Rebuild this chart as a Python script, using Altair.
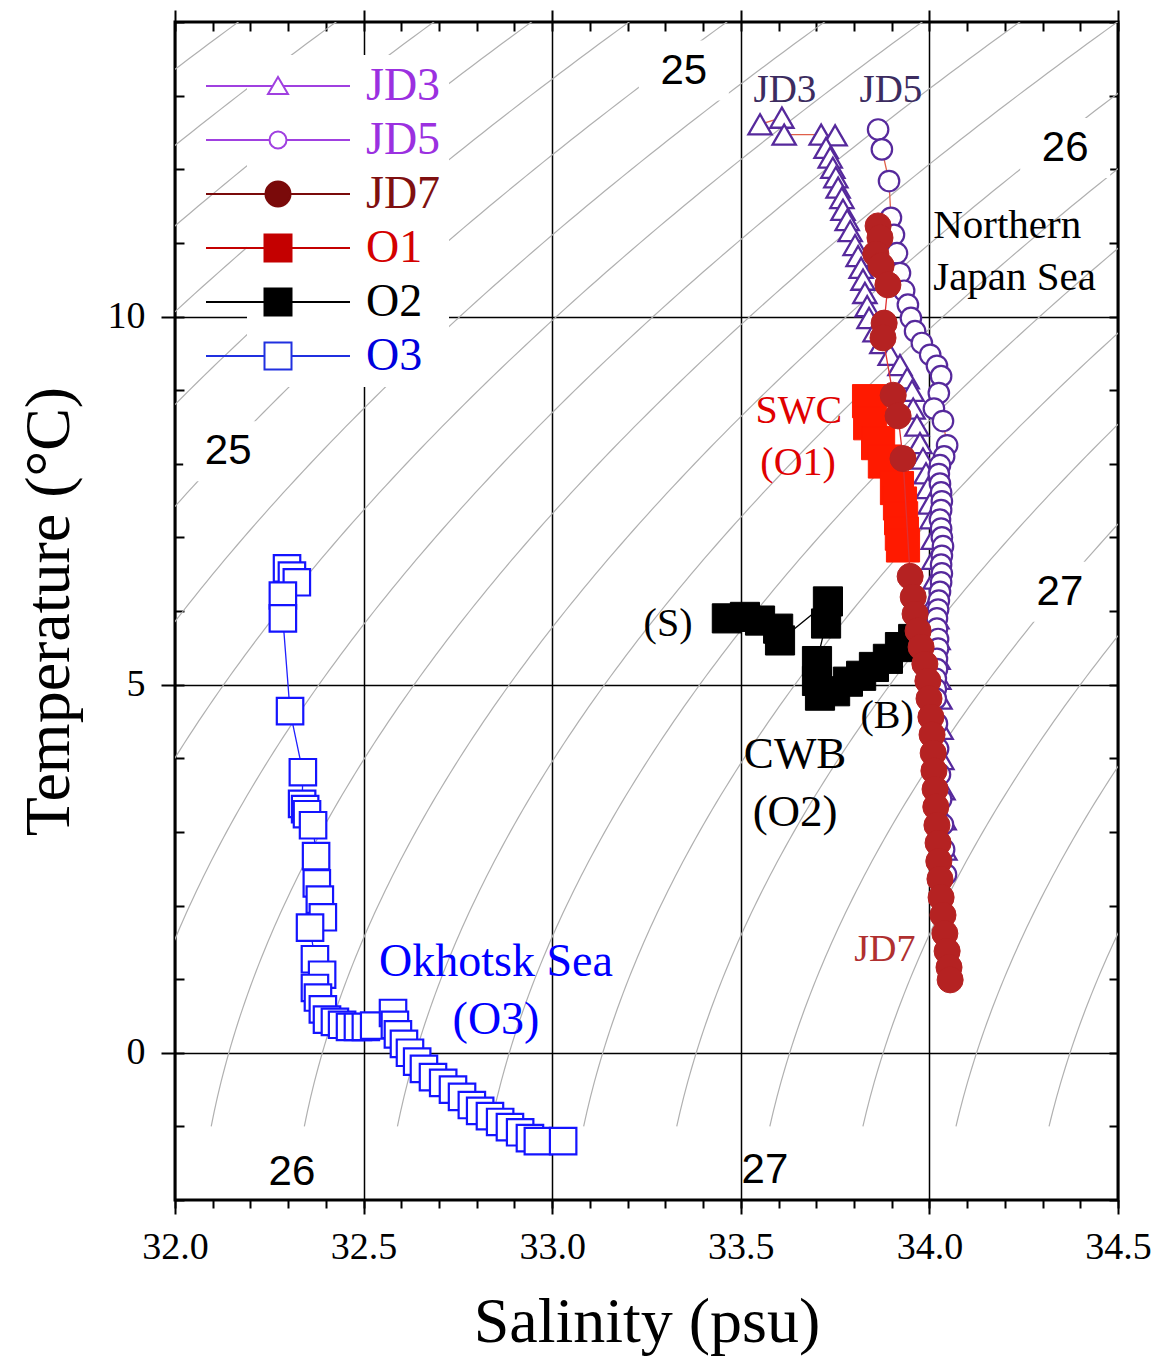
import altair as alt
import numpy as np
import pandas as pd

# ---------------- values ----------------
SERIES = ["JD3", "JD5", "JD7", "O1", "O2", "O3"]

JD3_S = [33.551, 33.609, 33.615, 33.713, 33.750, 33.726, 33.737, 33.744, 33.752, 33.758,
         33.768, 33.771, 33.782, 33.790, 33.803, 33.811, 33.819, 33.824, 33.829, 33.835,
         33.840, 33.856, 33.874, 33.896, 33.922, 33.941, 33.954, 33.957, 33.967, 33.975,
         33.983, 33.991, 33.996, 34.002, 34.007, 34.010, 34.012, 34.015, 34.017, 34.020,
         34.023, 34.023, 34.025, 34.028, 34.031, 34.033, 34.036, 34.039, 34.041]
JD3_T = [12.61, 12.70, 12.47, 12.47, 12.46, 12.29, 12.16, 12.02, 11.89, 11.75,
         11.61, 11.45, 11.31, 11.16, 10.97, 10.82, 10.66, 10.50, 10.32, 10.14,
         9.98, 9.80, 9.64, 9.48, 9.34, 9.16, 8.99, 8.75, 8.52, 8.28,
         8.07, 7.87, 7.67, 7.46, 7.26, 6.98, 6.71, 6.44, 6.17, 5.90,
         5.62, 5.35, 5.08, 4.81, 4.40, 3.99, 3.58, 3.17, 2.76]

JD5_S = [33.864, 33.874, 33.893, 33.898, 33.906, 33.914, 33.922, 33.933, 33.943, 33.951,
         33.962, 33.980, 34.002, 34.020, 34.031, 34.025, 34.012, 34.036,
         34.047, 34.039, 34.028, 34.025, 34.028, 34.031, 34.033, 34.031, 34.028, 34.031,
         34.033, 34.036, 34.033, 34.031, 34.033, 34.031, 34.028, 34.025, 34.023, 34.020,
         34.020, 34.023, 34.023, 34.020, 34.020, 34.017, 34.017, 34.017, 34.020, 34.023,
         34.028, 34.031, 34.036, 34.039, 34.044]
JD5_T = [12.54, 12.27, 11.84, 11.34, 11.11, 10.86, 10.59, 10.35, 10.16, 9.98,
         9.80, 9.64, 9.48, 9.33, 9.19, 8.96, 8.75, 8.58,
         8.25, 8.10, 7.98, 7.86, 7.73, 7.61, 7.49, 7.37, 7.24, 7.12,
         7.00, 6.88, 6.75, 6.63, 6.51, 6.39, 6.26, 6.14, 6.02, 5.90,
         5.76, 5.62, 5.49, 5.35, 5.21, 5.08, 4.94, 4.81, 4.47, 4.13,
         3.78, 3.44, 3.10, 2.76, 2.42]

JD7_S = [33.864, 33.869, 33.858, 33.872, 33.890, 33.880, 33.877, 33.904, 33.917, 33.930,
         33.949, 33.957, 33.962, 33.970, 33.978, 33.988, 33.996, 33.999, 34.004, 34.007,
         34.010, 34.012, 34.015, 34.017, 34.020, 34.023, 34.025, 34.028, 34.031, 34.036,
         34.041, 34.047, 34.052, 34.055]
JD7_T = [11.23, 11.07, 10.85, 10.69, 10.43, 9.91, 9.71, 8.93, 8.65, 8.07,
         6.47, 6.19, 5.96, 5.73, 5.51, 5.28, 5.05, 4.81, 4.56, 4.32,
         4.07, 3.83, 3.58, 3.34, 3.09, 2.85, 2.60, 2.36, 2.11, 1.87,
         1.62, 1.38, 1.16, 0.99]

O1_S = [33.840, 33.843, 33.864, 33.882, 33.914, 33.922, 33.925, 33.927, 33.930]
O1_T = [8.85, 8.55, 8.28, 8.03, 7.67, 7.46, 7.26, 7.05, 6.89]

O2_S = [33.463, 33.511, 33.551, 33.599, 33.604, 33.731, 33.726, 33.702, 33.702, 33.710,
        33.750, 33.784, 33.819, 33.853, 33.890, 33.922, 33.957]
O2_T = [5.90, 5.92, 5.87, 5.76, 5.60, 6.13, 5.83, 5.32, 5.05, 4.85,
        4.91, 5.04, 5.12, 5.24, 5.35, 5.51, 5.62]

O3_S = [32.297, 32.310, 32.323, 32.286, 32.286, 32.305, 32.339, 32.337, 32.345, 32.350,
        32.366, 32.374, 32.376, 32.384, 32.392, 32.358, 32.371, 32.390, 32.371, 32.379,
        32.392, 32.403, 32.424, 32.443, 32.464, 32.485, 32.506, 32.528, 32.578, 32.583,
        32.591, 32.607, 32.623, 32.642, 32.660, 32.684, 32.711, 32.737, 32.761, 32.787,
        32.809, 32.835, 32.862, 32.888, 32.915, 32.941, 32.962, 33.029]
O3_T = [6.58, 6.48, 6.39, 6.21, 5.90, 4.64, 3.81, 3.38, 3.31, 3.24,
        3.09, 2.67, 2.30, 2.08, 1.84, 1.70, 1.27, 1.06, 0.88, 0.75,
        0.59, 0.45, 0.42, 0.38, 0.35, 0.35, 0.35, 0.37, 0.54, 0.38,
        0.25, 0.12, 0.00, -0.12, -0.22, -0.33, -0.41, -0.50, -0.60, -0.71,
        -0.79, -0.86, -0.94, -1.01, -1.08, -1.16, -1.20, -1.20]

# sigma-t contour labels
SIG_LABELS = ["25", "26", "27", "25", "26", "27"]
SIG_S = [33.349, 34.360, 34.346, 32.141, 32.310, 33.564]
SIG_T = [13.34, 12.29, 6.26, 8.17, -1.62, -1.59]
SIG_BOXED = [True, True, True, True, False, False]

# text annotations
PURPLE_LABELS, PURPLE_S, PURPLE_T = ["JD3", "JD5"], [33.617, 33.898], [13.07, 13.07]
NJS_LABELS, NJS_S, NJS_T = ["Northern", "Japan Sea"], [34.010, 34.010], [11.23, 10.52]
SWC_LABELS, SWC_S, SWC_T = ["SWC", "(O1)"], [33.654, 33.652], [8.71, 8.01]
SB_LABELS, SB_S, SB_T = ["(S)", "(B)"], [33.307, 33.888], [5.83, 4.57]
CWB_LABELS, CWB_S, CWB_T = ["CWB", "(O2)"], [33.644, 33.644], [4.06, 3.27]
JD7_LABELS, JD7_LS, JD7_LT = ["JD7"], [33.882], [1.40]
OKH_LABELS, OKH_S, OKH_T = ["Okhotsk Sea", "(O3)"], [32.851, 32.851], [1.23, 0.45]

# axis ticks
X_MAJOR = [32.0, 32.5, 33.0, 33.5, 34.0, 34.5]
X_MINOR = [round(32.0 + 0.1 * k, 1) for k in range(26)]
Y_MAJOR = [0, 5, 10]
Y_MINOR = list(range(-2, 15))
SIGMA_LEVELS = [round(23.6 + 0.2 * k, 1) for k in range(22)]

# ---------------- isopycnals (UNESCO EOS-80, p = 0) ----------------
def sigma_t(S, T):
    rw = (999.842594 + 6.793952e-2 * T - 9.095290e-3 * T**2 + 1.001685e-4 * T**3
          - 1.120083e-6 * T**4 + 6.536332e-9 * T**5)
    A = 8.24493e-1 - 4.0899e-3 * T + 7.6438e-5 * T**2 - 8.2467e-7 * T**3 + 5.3875e-9 * T**4
    B = -5.72466e-3 + 1.0227e-4 * T - 1.6546e-6 * T**2
    C = 4.8314e-4
    return rw + A * S + B * S**1.5 + C * S**2 - 1000.0


def salinity_for(sig, T):
    S = 33.0
    for _ in range(25):
        f = sigma_t(S, T) - sig
        d = (sigma_t(S + 1e-4, T) - sigma_t(S - 1e-4, T)) / 2e-4
        S -= f / d
    return S


rows = []
for lev in SIGMA_LEVELS:
    for t in np.round(np.arange(-1.0, 14.51, 0.1), 2):
        rows.append({"level": lev, "T": float(t), "S": salinity_for(lev, float(t))})
iso = pd.DataFrame(rows)


def frame(name, S, T):
    return pd.DataFrame({"series": name, "S": S, "T": T, "i": list(range(len(S)))})


dfs = {
    "JD3": frame("JD3", JD3_S, JD3_T),
    "JD5": frame("JD5", JD5_S, JD5_T),
    "JD7": frame("JD7", JD7_S, JD7_T),
    "O1": frame("O1", O1_S, O1_T),
    "O2": frame("O2", O2_S, O2_T),
    "O3": frame("O3", O3_S, O3_T),
}
all_df = pd.concat(list(dfs.values()), ignore_index=True)

# ---------------- scales / axes ----------------
xs = alt.Scale(domain=[32.0, 34.5], nice=False, zero=False)
ys = alt.Scale(domain=[-2, 14], nice=False, zero=False)
W, H = 943, 1178
SERIF = "Liberation Serif"


def X(axis=None):
    return alt.X("S:Q", scale=xs, axis=axis)


def Y(axis=None):
    return alt.Y("T:Q", scale=ys, axis=axis)


tick_common = dict(tickColor="black", tickWidth=2, domain=False)

axA = alt.Axis(orient="bottom", values=X_MAJOR, format=".1f", tickSize=14, grid=True,
               gridColor="black", gridWidth=1.5, labelFont=SERIF, labelFontSize=38,
               labelColor="black", labelPadding=14, labelFlush=False, labelOverlap=False,
               title="Salinity (psu)", titleFont=SERIF, titleFontSize=64,
               titleFontWeight="normal", titleColor="black", titlePadding=24, **tick_common)
axB = alt.Axis(orient="bottom", values=X_MINOR, tickSize=8, labels=False, grid=False,
               title=None, **tick_common)
axC = alt.Axis(orient="bottom", offset=-H, values=X_MINOR, tickSize=9, labels=False,
               grid=False, title=None, **tick_common)
axG = alt.Axis(orient="top", values=X_MAJOR, tickSize=12, labels=False, grid=False,
               title=None, **tick_common)
axD = alt.Axis(orient="left", values=Y_MAJOR, format="d", tickSize=14, grid=True,
               gridColor="black", gridWidth=1.5, labelFont=SERIF, labelFontSize=38,
               labelColor="black", labelPadding=16, labelFlush=False, labelOverlap=False,
               title="Temperature (°C)", titleFont=SERIF, titleFontSize=64,
               titleFontWeight="normal", titleColor="black", titlePadding=26, **tick_common)
axE = alt.Axis(orient="right", offset=-W, values=Y_MINOR, tickSize=9, labels=False,
               grid=False, title=None, **tick_common)
axF = alt.Axis(orient="left", offset=-W, values=Y_MINOR, tickSize=9, labels=False,
               grid=False, title=None, **tick_common)

layers = []

# isopycnal lines (also carry the main axes)
layers.append(alt.Chart(iso).mark_line(clip=True, color="#b0b0b0", strokeWidth=1.2).encode(
    x=X(axA), y=Y(axD), detail="level:N", order="T:Q"))

# white boxes behind contour labels
sig_df = pd.DataFrame({"label": SIG_LABELS, "S": SIG_S, "T": SIG_T, "boxed": SIG_BOXED})
layers.append(alt.Chart(sig_df).transform_filter("datum.boxed").mark_point(
    shape="M-1.5,-1H1.5V1H-1.5Z", size=3600, filled=True, fill="white", strokeWidth=0,
    opacity=1).encode(x=X(), y=Y()))
layers.append(alt.Chart(sig_df).mark_text(font="Liberation Sans", fontSize=42, color="black",
                                          align="center", baseline="middle").encode(
    x=X(), y=Y(), text="label:N"))


def series_layers(name, shape, size, stroke, fill, line_color, sw=2.0, lw=1.3):
    base = alt.Chart(dfs[name]).encode(x=X(), y=Y())
    line = base.mark_line(color=line_color, strokeWidth=lw).encode(order="i:Q")
    pts = base.mark_point(shape=shape, size=size, filled=True, fill=fill, stroke=stroke,
                          strokeWidth=sw, opacity=1)
    return [line, pts]


layers += series_layers("JD3", "triangle-up", 540, "#56299c", "white", "#e0604a", sw=2.3)
layers += series_layers("JD5", "circle", 420, "#56299c", "white", "#e0604a", sw=2.2)
layers += series_layers("O3", "square", 700, "#1414ff", "white", "#2020ff", sw=2.2)
layers += series_layers("O2", "square", 850, "black", "black", "black", sw=1)
layers += series_layers("O1", "square", 1100, "#ff1a00", "#ff1a00", "#ff3020", sw=1)
layers += series_layers("JD7", "circle", 680, "#b52222", "#b52222", "#e03030", sw=1)


def text_layer(labels, S, T, size, color, align="center"):
    df = pd.DataFrame({"label": labels, "S": S, "T": T})
    return alt.Chart(df).mark_text(font=SERIF, fontSize=size, color=color, align=align,
                                   baseline="middle").encode(x=X(), y=Y(), text="label:N")


layers.append(text_layer(PURPLE_LABELS, PURPLE_S, PURPLE_T, 39, "#3c2c60"))
layers.append(text_layer(NJS_LABELS, NJS_S, NJS_T, 41, "black", align="left"))
layers.append(text_layer(SWC_LABELS, SWC_S, SWC_T, 40, "#e00000"))
layers.append(text_layer(SB_LABELS, SB_S, SB_T, 40, "black"))
layers.append(text_layer(CWB_LABELS, CWB_S, CWB_T, 45, "black"))
layers.append(text_layer(JD7_LABELS, JD7_LS, JD7_LT, 38, "#b03030"))
layers.append(text_layer(OKH_LABELS, OKH_S, OKH_T, 46, "#0000ff"))

# extra tick axes (minor ticks, inner ticks on the frame)
empty = alt.Chart(all_df).transform_filter("false").mark_point()
layers.append(empty.encode(x=X(axB), y=Y(axE)))
layers.append(empty.encode(x=X(axC), y=Y(axF)))
layers.append(empty.encode(x=X(axG), y=Y()))

# legend (line + marker symbols)
LEG_PATHS = [
    "M-7.2,0H-0.5M0.5,0H7.2M0,-0.9L1,0.8H-1Z",
    "M-7.2,0H-0.85M0.85,0H7.2M-0.85,0A0.85,0.85 0 1,0 0.85,0A0.85,0.85 0 1,0 -0.85,0Z",
    "M-7.2,0H7.2M-1.25,0A1.25,1.25 0 1,0 1.25,0A1.25,1.25 0 1,0 -1.25,0Z",
    "M-7.2,0H7.2M-1.35,-1.35H1.35V1.35H-1.35Z",
    "M-7.2,0H7.2M-1.35,-1.35H1.35V1.35H-1.35Z",
    "M-7.2,0H-1.35M1.35,0H7.2M-1.35,-1.35H1.35V1.35H-1.35Z",
]
LEG_STROKE = ["#a040e0", "#a040e0", "#7a0a0a", "#c40000", "black", "#2030e0"]
LEG_FILL = ["white", "white", "#7a0a0a", "#c40000", "black", "white"]
label_color = ("datum.label == 'JD3' || datum.label == 'JD5' ? '#9b30e0' : "
               "datum.label == 'JD7' ? '#7f1010' : datum.label == 'O1' ? '#d40000' : "
               "datum.label == 'O2' ? '#000000' : '#0000dd'")
leg = alt.Legend(title=None, orient="none", legendX=72, legendY=33, labelFont=SERIF,
                 labelFontSize=46, labelColor={"expr": label_color}, symbolSize=400,
                 symbolStrokeWidth=2, labelOffset=65, rowPadding=8, padding=8,
                 fillColor="white", labelLimit=300)
layers.append(alt.Chart(all_df).transform_filter("false").mark_point(
    size=400, strokeWidth=2, opacity=1, filled=True).encode(
    x=X(), y=Y(),
    shape=alt.Shape("series:N", scale=alt.Scale(domain=SERIES, range=LEG_PATHS), legend=leg),
    stroke=alt.Stroke("series:N", scale=alt.Scale(domain=SERIES, range=LEG_STROKE), legend=leg),
    fill=alt.Fill("series:N", scale=alt.Scale(domain=SERIES, range=LEG_FILL), legend=leg),
))

chart = alt.layer(*layers).resolve_axis(x="independent", y="independent").properties(
    width=W, height=H,
    autosize=alt.AutoSizeParams(type="none"),
    padding={"left": 175, "top": 22, "right": 37, "bottom": 159},
    background="white",
).configure_view(stroke="black", strokeWidth=3)

chart.save("out.html", embed_options={"renderer": "svg", "actions": False})
